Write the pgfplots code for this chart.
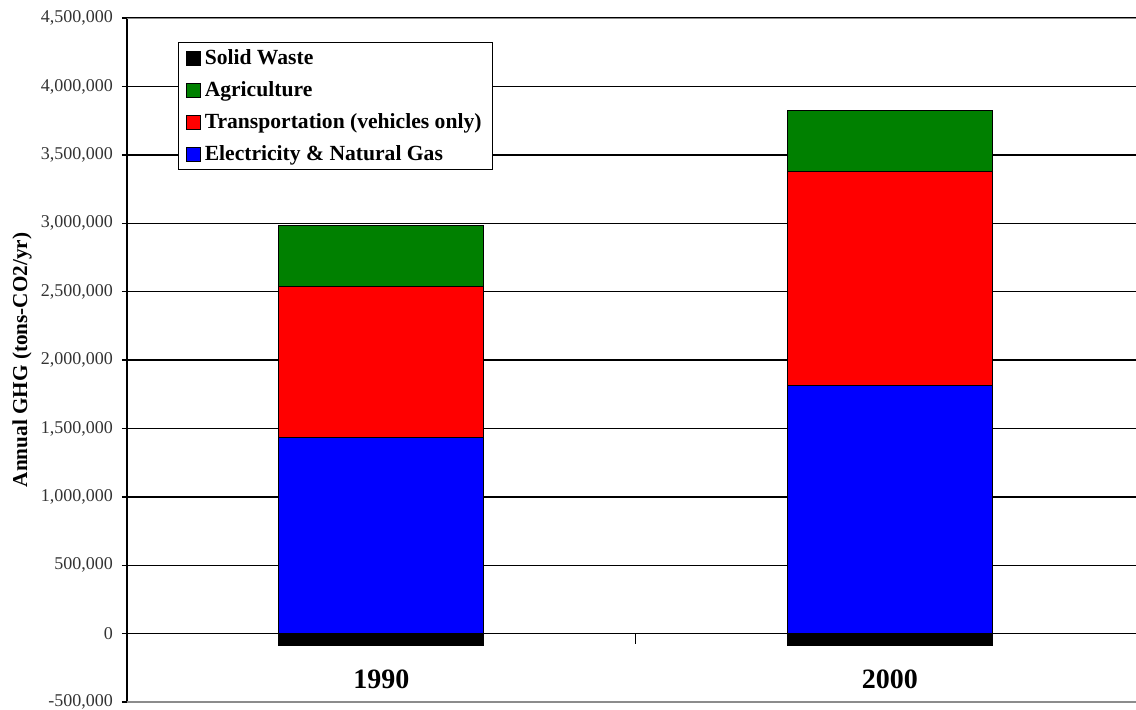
\documentclass[border=0pt]{standalone}
\usepackage{fontspec}
\setmainfont{Liberation Serif}
\usepackage{pgfplots}
\pgfplotsset{compat=1.18}
\definecolor{agri}{RGB}{0,128,0}
\definecolor{trans}{RGB}{255,0,0}
\definecolor{elec}{RGB}{0,0,255}
\begin{document}
\begin{tikzpicture}
\path[use as bounding box] (-63.5pt,-3.5pt) rectangle (504.5pt,351pt);
\pgfplotsset{
  base/.style={
    at={(0,0)}, anchor=south west,
    scale only axis, width=504.5pt, height=342pt,
    xmin=-0.5, xmax=1.484, ymin=-500000, ymax=4500000,
    bar width=102.5pt,
  },
  sq/.style={legend image code/.code={\draw[##1, draw=black, line width=0.4pt] (0pt,-3.6pt) rectangle (7.2pt,3.6pt);}},
}
\begin{axis}[base,
  ybar stacked,
  axis y line*=left, axis x line*=bottom,
  x axis line style={draw=none},
  y axis line style={black, line width=0.7pt},
  ytick={-500000,0,500000,1000000,1500000,2000000,2500000,3000000,3500000,4000000,4500000},
  xtick={0,1}, xticklabels={1990,2000},
  xtick style={draw=none},
  ytick style={black, line width=0.7pt},
  tick align=outside, major tick length=2.5pt,
  ymajorgrids, grid style={black, line width=0.7pt},
  scaled y ticks=false,
  yticklabel style={/pgf/number format/fixed, /pgf/number format/1000 sep={,}, /pgf/number format/assume math mode=true, font=\fontsize{9}{10}\selectfont, text=black!80, xshift=-1pt},
  xticklabel style={anchor=center, yshift=14pt, font=\bfseries\fontsize{14}{16}\selectfont},
  ylabel={Annual GHG (tons-CO2/yr)},
  ylabel style={at={(axis description cs:-0.104,0.5)}, anchor=center, font=\bfseries\fontsize{10.6}{12}\selectfont},
  reverse legend,
  legend cell align=left,
  legend style={at={(0.0505,0.965)}, anchor=north west, draw=black, line width=0.6pt,
    font=\bfseries\fontsize{10.8}{12}\selectfont, inner xsep=3.5pt, inner ysep=1.3pt, row sep=3pt},
]
\addplot[sq, fill=elec, draw=black, line width=0.4pt] coordinates {(0,1435000) (1,1813000)};
\addlegendentry{Electricity \& Natural Gas}
\addplot[sq, fill=trans, draw=black, line width=0.4pt] coordinates {(0,1104000) (1,1566000)};
\addlegendentry{Transportation (vehicles only)}
\addplot[sq, fill=agri, draw=black, line width=0.4pt] coordinates {(0,443000) (1,444000)};
\addlegendentry{Agriculture}
\addlegendimage{sq, fill=black}
\addlegendentry{Solid Waste}
\draw[black, line width=0.7pt] (axis cs:0.5,0) -- ([yshift=-5pt]axis cs:0.5,0);
\draw[black!45, line width=0.9pt] (axis cs:-0.5,4500000) -- (axis cs:1.484,4500000);
\draw[black!45, line width=0.9pt] (axis cs:-0.5,-500000) -- (axis cs:1.484,-500000);
\end{axis}
\begin{axis}[base, ybar, hide axis]
\addplot[fill=black, draw=black, line width=0.4pt] coordinates {(0,-83000) (1,-83000)};
\end{axis}
\end{tikzpicture}
\end{document}
